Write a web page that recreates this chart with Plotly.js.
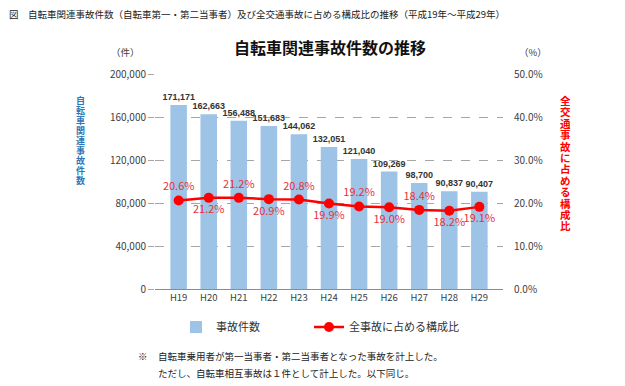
<!DOCTYPE html>
<html><head><meta charset="utf-8">
<script src="https://cdn.plot.ly/plotly-3.0.1.min.js"></script>
<style>body{margin:0;background:#fff}#c{width:625px;height:386px}</style>
</head><body><div id="c"></div>
<script>
const years = ["H19","H20","H21","H22","H23","H24","H25","H26","H27","H28","H29"];
const accidents = [171171,162663,156488,151683,144062,132051,121040,109269,98700,90837,90407];
const ratio = [20.6,21.2,21.2,20.9,20.8,19.9,19.2,19.0,18.4,18.2,19.1];
const ratioPos = ["top center","bottom center","top center","bottom center","top center","bottom center","top center","bottom center","top center","bottom center","bottom center"];
const leftTicks = [0,40000,80000,120000,160000,200000];
const rightTicks = [0,10,20,30,40,50];
const leftTitle = "自転車関連事故件数";
const rightTitle = "全交通事故に占める構成比";

const F = '"Noto Sans CJK JP", "Noto Sans", sans-serif';
const L = 155, T = 74, PW = 348, PH = 215;
const px = x => (x - L) / PW;
const py = y => (T + PH - y) / PH;

const traces = [
  {type:'bar', x:years, y:accidents, name:'事故件数', marker:{color:'#9dc3e6'}, legend:'legend',
   text:accidents.map(v=>'<b>'+v.toLocaleString('en-US')+'</b>'), textposition:'outside', constraintext:'none',
   textfont:{family:'"Liberation Sans", sans-serif', size:9, color:'#333'}, cliponaxis:false, hoverinfo:'skip'},
  {type:'scatter', mode:'lines+markers+text', x:years, y:ratio, yaxis:'y2', name:'全事故に占める構成比', legend:'legend2',
   line:{color:'#ff0000', width:2.5}, marker:{color:'#ff0000', size:10},
   text:ratio.map(v=>v.toFixed(1)+'%'), textposition:ratioPos,
   textfont:{family:F, size:11, color:'#e8303a'}, cliponaxis:false}
];

const ann = [
  {text:'図　自転車関連事故件数（自転車第一・第二当事者）及び全交通事故に占める構成比の推移（平成19年～平成29年）',
   x:px(8), y:py(14), xanchor:'left', font:{family:F, size:9.5, color:'#222'}},
  {text:'<b>自転車関連事故件数の推移</b>', x:px(330), y:py(47), xanchor:'center', font:{family:F, size:16, color:'#111'}},
  {text:'（件）', x:px(125), y:py(52), xanchor:'center', font:{family:F, size:9.5, color:'#404040'}},
  {text:'（%）', x:px(533), y:py(52), xanchor:'center', font:{family:F, size:9.5, color:'#404040'}},
  {text:'※', x:px(143), y:py(356), xanchor:'center', font:{family:F, size:9.5, color:'#222'}},
  {text:'自転車乗用者が第一当事者・第二当事者となった事故を計上した。', x:px(157), y:py(356), xanchor:'left', font:{family:F, size:9.5, color:'#222'}},
  {text:'ただし、自転車相互事故は１件として計上した。以下同じ。', x:px(157), y:py(373), xanchor:'left', font:{family:F, size:9.5, color:'#222'}}
];
[...leftTitle].forEach((ch,i)=>ann.push({text:'<b>'+ch+'</b>', x:px(80), y:py(100+10*i), xanchor:'center', font:{family:F, size:9, color:'#2e75b6'}}));
[...rightTitle].forEach((ch,i)=>ann.push({text:'<b>'+ch+'</b>', x:px(565), y:py(100.5+11.4*i), xanchor:'center', font:{family:F, size:10.5, color:'#ff0000'}}));
ann.forEach(a=>{a.xref='paper'; a.yref='paper'; a.yanchor='middle'; a.showarrow=false; a.borderpad=0;});

const legFont = {family:F, size:11, color:'#333'};
const layout = {
  width:625, height:386, paper_bgcolor:'#fff', plot_bgcolor:'#fff',
  margin:{l:L, r:625-L-PW, t:T, b:386-T-PH},
  font:{family:F, size:10, color:'#404040'},
  bargap:0.45, showlegend:true,
  xaxis:{type:'category', showline:true, linecolor:'#8c8c8c', linewidth:1, ticks:'', tickfont:{size:9.5}, fixedrange:true},
  yaxis:{range:[0,200000], tickvals:leftTicks, ticktext:leftTicks.map(v=>v.toLocaleString('en-US')),
    showgrid:true, gridcolor:'#a6a6a6', griddash:'dash', gridwidth:1, zeroline:false, showline:false,
    ticks:'outside', ticklen:6, tickcolor:'#a6a6a6', tickfont:{size:10}},
  yaxis2:{overlaying:'y', side:'right', range:[0,50], tickvals:rightTicks, ticktext:rightTicks.map(v=>v.toFixed(1)+'%'),
    showgrid:false, zeroline:false, showline:false, tickfont:{size:10}, ticklen:8, ticks:'outside', tickcolor:'rgba(0,0,0,0)'},
  legend:{orientation:'h', x:px(176), y:py(327), xanchor:'left', yanchor:'middle', font:legFont, itemwidth:30},
  legend2:{orientation:'h', x:px(309), y:py(327), xanchor:'left', yanchor:'middle', font:legFont, itemwidth:30},
  annotations:ann
};
Plotly.newPlot('c', traces, layout, {displayModeBar:false, staticPlot:true});
</script></body></html>
